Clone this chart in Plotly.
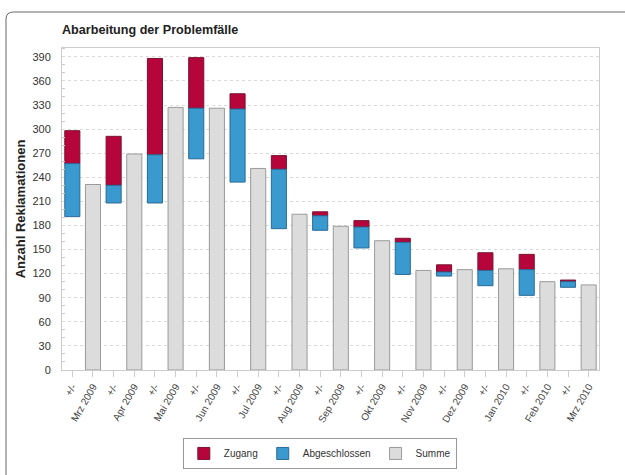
import plotly.graph_objects as go

months = ["Mrz 2009", "Apr 2009", "Mai 2009", "Jun 2009", "Jul 2009", "Aug 2009",
          "Sep 2009", "Okt 2009", "Nov 2009", "Dez 2009", "Jan 2010", "Feb 2010", "Mrz 2010"]
delta_label = "+/-"
summe = [231, 269, 327, 326, 251, 194, 179, 161, 124, 125, 126, 110, 106]
delta_base = [191, 208, 208, 263, 234, 176, 174, 152, 119, 117, 105, 93, 103]
abgeschlossen = [66, 22, 60, 63, 91, 74, 18, 26, 40, 5, 19, 32, 7]
zugang = [41, 61, 120, 63, 19, 17, 5, 8, 5, 9, 22, 19, 2]

x_delta = [2 * i for i in range(len(months))]
x_month = [2 * i + 1 for i in range(len(months))]
tickvals = []
ticktext = []
for i, m in enumerate(months):
    tickvals += [x_delta[i], x_month[i]]
    ticktext += [delta_label, m]

red = "#B5053B"
blue = "#3A9AD0"
grey = "#DCDCDC"

fig = go.Figure()
fig.add_trace(go.Bar(
    name="Zugang", x=x_delta, y=zugang,
    base=[b + a for b, a in zip(delta_base, abgeschlossen)],
    marker=dict(color=red, line=dict(color="#7A1030", width=1)),
    width=0.73,
))
fig.add_trace(go.Bar(
    name="Abgeschlossen", x=x_delta, y=abgeschlossen, base=delta_base,
    marker=dict(color=blue, line=dict(color="#2A6A95", width=1)),
    width=0.73,
))
fig.add_trace(go.Bar(
    name="Summe", x=x_month, y=summe,
    marker=dict(color=grey, line=dict(color="#9A9A9A", width=1)),
    width=0.73,
))

fig.update_layout(
    width=625, height=475,
    barmode="overlay",
    paper_bgcolor="white", plot_bgcolor="white",
    font=dict(family="Liberation Sans, Arial, sans-serif", size=10, color="#333333"),
    margin=dict(l=62, r=26, t=48, b=105, autoexpand=False),
    title=dict(text="<b>Abarbeitung der Problemfälle</b>", x=62 / 625, xanchor="left",
               y=1 - 30 / 475, yanchor="middle", font=dict(size=12.6, color="#222222")),
    legend=dict(orientation="h", x=0.225, xanchor="left", y=-0.211, yanchor="top",
                bordercolor="#999999", borderwidth=1, bgcolor="white",
                font=dict(size=10, color="#333333"), traceorder="normal"),
    showlegend=True,
    xaxis=dict(
        tickmode="array", tickvals=tickvals, ticktext=ticktext, tickangle=-60,
        range=[-0.5, 2 * len(months) - 0.5],
        showgrid=False, ticks="outside", ticklen=6, tickcolor="#CCCCCC",
        showline=True, linecolor="#CCCCCC", mirror=True,
        tickfont=dict(size=10, color="#444444"),
    ),
    yaxis=dict(
        range=[0, 401], dtick=30, tick0=0,
        showgrid=True, gridcolor="#DADADA", griddash="dot",
        showline=True, linecolor="#CCCCCC", mirror=True,
        ticks="", zeroline=False, ticklabelstandoff=8,
        minor=dict(dtick=10, ticks="inside", ticklen=3, tickcolor="#CCCCCC"),
        title=dict(text="<b>Anzahl Reklamationen</b>", font=dict(size=13, color="#222222"),
                   standoff=3),
        tickfont=dict(size=11, color="#333333"),
    ),
    shapes=[dict(type="path", xref="paper", yref="paper",
                 path="M -0.1043,-0.33 L -0.1043,1.09 Q -0.1043,1.1118 -0.09,1.1118 L 1.06,1.1118",
                 line=dict(color="#666666", width=1))],
)

fig.write_html("out.html", config={"displayModeBar": False},
               post_script="document.body.style.margin='0';document.body.style.overflow='hidden';")
